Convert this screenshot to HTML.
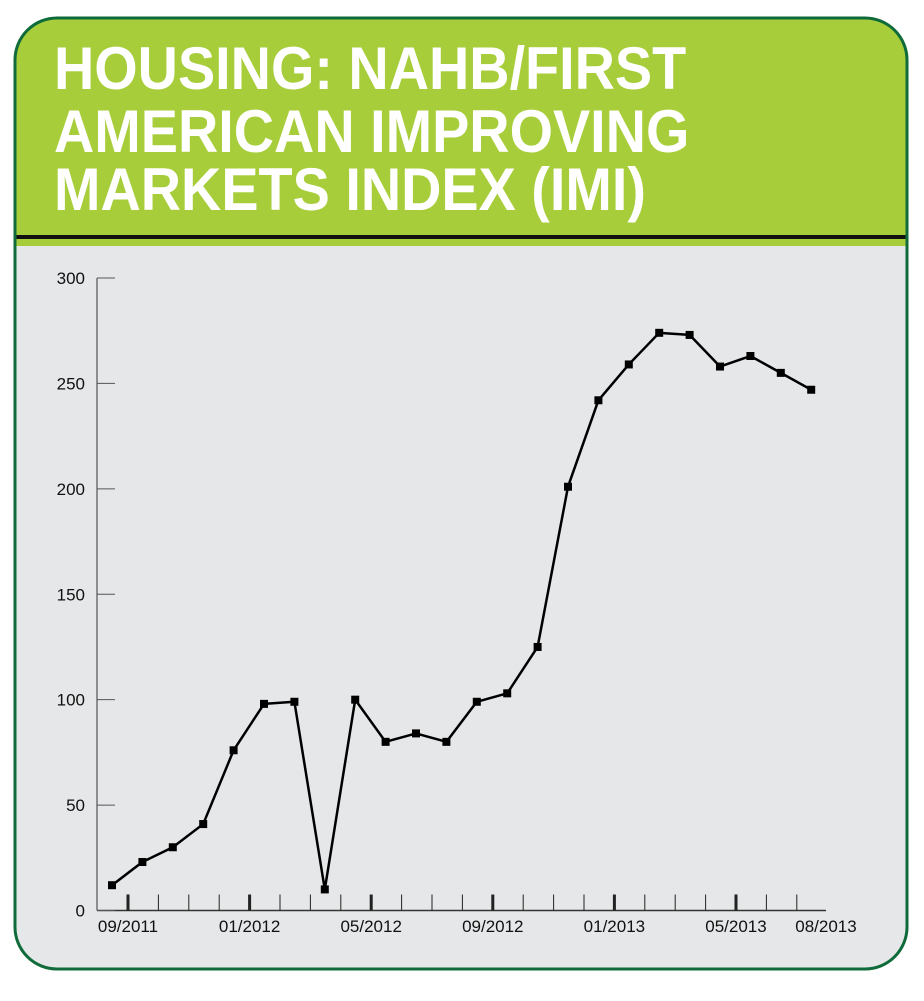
<!DOCTYPE html>
<html><head><meta charset="utf-8"><style>
body{margin:0;background:#fff;width:924px;height:996px;overflow:hidden;font-family:"Liberation Sans",sans-serif}
</style></head><body>
<svg width="924" height="996" xmlns="http://www.w3.org/2000/svg">
<defs><clipPath id="c"><rect x="15" y="18" width="892" height="951" rx="42"/></clipPath></defs>
<g clip-path="url(#c)">
<rect x="15" y="18" width="892" height="951" fill="#e6e7e8"/>
<rect x="15" y="18" width="892" height="228" fill="#a8cd3a"/>
<rect x="15" y="235" width="892" height="4" fill="#111"/>
</g>
<rect x="15" y="18" width="892" height="951" rx="42" fill="none" stroke="#0f6b3a" stroke-width="3"/>
<g fill="#fff" font-weight="bold" font-size="60" transform="translate(54,0) scale(0.93,1)">
<text x="0" y="89">HOUSING: NAHB/FIRST</text>
<text x="0" y="152">AMERICAN IMPROVING</text>
<text x="0" y="210">MARKETS INDEX (IMI)</text>
</g>
<g id="plot"></g>
</svg>
<script>
const months=["09/2011","10/2011","11/2011","12/2011","01/2012","02/2012","03/2012","04/2012","05/2012","06/2012","07/2012","08/2012","09/2012","10/2012","11/2012","12/2012","01/2013","02/2013","03/2013","04/2013","05/2013","06/2013","07/2013","08/2013"];
const values=[12,23,30,41,76,98,99,10,100,80,84,80,99,103,125,201,242,259,274,273,258,263,255,247];
const yTicks=[0,50,100,150,200,250,300];
const xLabels=["09/2011","01/2012","05/2012","09/2012","01/2013","05/2013","08/2013"];
const NS="http://www.w3.org/2000/svg";
const g=document.getElementById('plot');
const x0=97,step=30.4,yBase=910.5,yTop=278;
const y=v=>yBase-(v/300)*(yBase-yTop);
const xPt=i=>x0+15+step*i;
const xTick=i=>x0+31+step*i;
function mk(t,a){const e=document.createElementNS(NS,t);for(const k in a)e.setAttribute(k,a[k]);g.appendChild(e);return e;}
let e=mk('line',{x1:x0,y1:yTop,x2:x0,y2:yBase,stroke:'#333','stroke-width':1});


e=mk('line',{x1:x0,y1:yBase,x2:826,y2:yBase,stroke:'#333','stroke-width':1.5});


yTicks.forEach(v=>{
 const t=mk('line',{x1:x0,y1:y(v),x2:x0+18,y2:y(v),stroke:'#555','stroke-width':1});
 
 
 const l=mk('text',{x:85,y:y(v)+6,'text-anchor':'end','font-size':17,fill:'#111'});
 l.textContent=v;
 
 
});
months.forEach((m,i)=>{
 const major=xLabels.includes(m);
 const xx=xTick(i);
 if(i<months.length-1){
  const t=mk('line',{x1:xx,y1:yBase-16,x2:xx,y2:yBase,stroke:'#222','stroke-width':major?3:1});
  
  
 }
 if(major){
  const l=mk('text',{x:i===months.length-1?826:xx,y:932,'text-anchor':'middle','font-size':17,fill:'#111'});
  l.textContent=m;
  
  
 }
});
const line=mk('polyline',{points:values.map((v,i)=>xPt(i)+','+y(v)).join(' '),fill:'none',stroke:'#000','stroke-width':2.5,'stroke-linejoin':'round'});


values.forEach((v,i)=>{
 const p=mk('rect',{x:xPt(i)-4,y:y(v)-4,width:8,height:8,fill:'#000'});
 
 
});
</script>
</body></html>
